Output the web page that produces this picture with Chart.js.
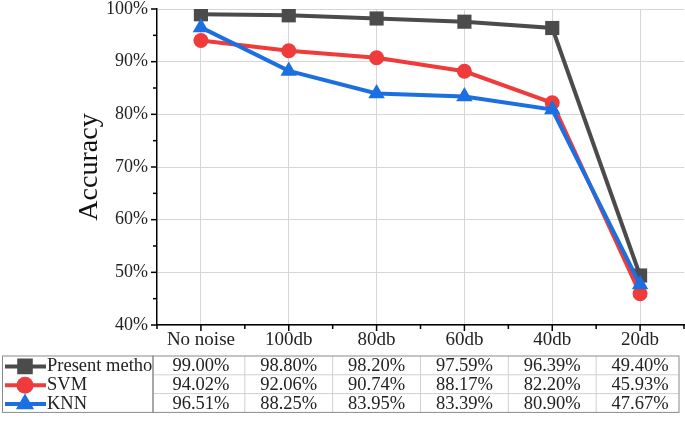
<!DOCTYPE html>
<html>
<head>
<meta charset="utf-8">
<script src="https://cdn.jsdelivr.net/npm/chart.js@4.4.0/dist/chart.umd.min.js"></script>
<style>
  body { margin: 0; background: #fff; }
  #wrap { width: 685px; height: 427px; position: relative; }
</style>
</head>
<body>
<div id="wrap"><canvas id="accChart"></canvas></div>
<script>
const categories = ['No noise', '100db', '80db', '60db', '40db', '20db'];
const presentMethod = [99.00, 98.80, 98.20, 97.59, 96.39, 49.40];
const svm = [94.02, 92.06, 90.74, 88.17, 82.20, 45.93];
const knn = [96.51, 88.25, 83.95, 83.39, 80.90, 47.67];
const seriesNames = ['Present method', 'SVM', 'KNN'];
const yTicks = [40, 50, 60, 70, 80, 90, 100];

const colors = ['#4b4b4b', '#ef3b3b', '#1c6fe0'];
const shapes = ['rect', 'circle', 'triangle'];
const radii = [10, 7.5, 9.5];
const serif = '"Liberation Serif", "Times New Roman", serif';

// axis ticks, legend box and data table under the plot
const extras = {
  id: 'extras',
  afterDraw(chart) {
    const ctx = chart.ctx;
    const x = chart.scales.x, y = chart.scales.y;
    const area = chart.chartArea;
    const step = x.getPixelForValue(1) - x.getPixelForValue(0);
    ctx.save();
    ctx.strokeStyle = '#000';
    ctx.lineWidth = 1.5;
    // y ticks (major every 10, minor every 5)
    for (let v = y.min; v <= y.max; v += 5) {
      const py = y.getPixelForValue(v);
      const len = v % 10 === 0 ? 6 : 4;
      ctx.beginPath();
      ctx.moveTo(area.left - len, py);
      ctx.lineTo(area.left, py);
      ctx.stroke();
    }
    // x ticks (major at categories, minor in between)
    for (let i = 0; i < categories.length; i++) {
      const px = x.getPixelForValue(i);
      ctx.beginPath();
      ctx.moveTo(px, area.bottom);
      ctx.lineTo(px, area.bottom + 6);
      ctx.stroke();
      const mx = px - step / 2;
      ctx.beginPath();
      ctx.moveTo(mx, area.bottom);
      ctx.lineTo(mx, area.bottom + 4);
      ctx.stroke();
    }
    const lastMx = x.getPixelForValue(categories.length - 1) + step / 2;
    ctx.beginPath();
    ctx.moveTo(lastMx, area.bottom);
    ctx.lineTo(lastMx, area.bottom + 4);
    ctx.stroke();

    // table
    const rows = [presentMethod, svm, knn];
    const top = 356, rowH = 18.8;
    const tLeft = area.left - 4;
    const tRight = x.getPixelForValue(categories.length - 1) + step / 2 - 5;
    ctx.font = '18.5px ' + serif;
    ctx.textAlign = 'center';
    ctx.textBaseline = 'middle';
    ctx.fillStyle = '#222';
    rows.forEach((row, r) => {
      row.forEach((v, i) => {
        ctx.fillText(v.toFixed(2) + '%', x.getPixelForValue(i), top + rowH * (r + 0.5) + 1);
      });
    });
    ctx.strokeStyle = '#d0d0d0';
    ctx.lineWidth = 1;
    for (let r = 1; r < 3; r++) {
      ctx.beginPath();
      ctx.moveTo(tLeft, top + rowH * r);
      ctx.lineTo(tRight, top + rowH * r);
      ctx.stroke();
    }
    for (let i = 1; i < categories.length; i++) {
      const px = x.getPixelForValue(i) - step / 2;
      ctx.beginPath();
      ctx.moveTo(px, top);
      ctx.lineTo(px, top + rowH * 3);
      ctx.stroke();
    }
    ctx.strokeStyle = '#8a8a8a';
    ctx.strokeRect(tLeft, top, tRight - tLeft, rowH * 3);

    // legend box
    const lLeft = 2.5;
    ctx.strokeRect(lLeft, top, tLeft - lLeft, rowH * 3);
    ctx.save();
    ctx.beginPath();
    ctx.rect(lLeft, top, tLeft - lLeft - 1, rowH * 3);
    ctx.clip();
    ctx.textAlign = 'left';
    seriesNames.forEach((name, r) => {
      const cy = top + rowH * (r + 0.5) + 1;
      ctx.strokeStyle = colors[r];
      ctx.fillStyle = colors[r];
      ctx.lineWidth = 4;
      ctx.beginPath();
      ctx.moveTo(5, cy);
      ctx.lineTo(46, cy);
      ctx.stroke();
      Chart.helpers.drawPoint(ctx, { pointStyle: shapes[r], radius: radii[r] + 1, rotation: 0, borderWidth: 0 }, 25, cy);
      ctx.fillStyle = '#222';
      ctx.fillText(name, 47, cy);
    });
    ctx.restore();
    ctx.restore();
  }
};

const ctx = document.getElementById('accChart').getContext('2d');
new Chart(ctx, {
  type: 'line',
  data: {
    labels: categories,
    datasets: [presentMethod, svm, knn].map((d, i) => ({
      label: seriesNames[i],
      data: d,
      order: 3 - i,
      borderColor: colors[i],
      backgroundColor: colors[i],
      borderWidth: 4,
      tension: 0,
      pointStyle: shapes[i],
      pointRadius: radii[i],
      pointHoverRadius: radii[i],
      pointBorderWidth: 0
    }))
  },
  options: {
    responsive: true,
    maintainAspectRatio: false,
    animation: false,
    layout: { autoPadding: false, padding: { top: 9, right: 1, left: 0, bottom: 0 } },
    plugins: { legend: { display: false }, tooltip: { enabled: false } },
    scales: {
      x: {
        offset: true,
        grid: { color: '#d6d6d6', lineWidth: 1, drawTicks: false, offset: false },
        border: { display: true, color: '#000', width: 1.5 },
        ticks: { font: { family: serif, size: 19 }, color: '#222', padding: 4, maxRotation: 0 },
        afterFit(scale) {
          scale.height = 102;
          scale.paddingLeft = 0;
          scale.paddingRight = 0;
        }
      },
      y: {
        min: 40,
        max: 100,
        afterBuildTicks(scale) { scale.ticks = yTicks.map(v => ({ value: v })); },
        grid: { color: '#d6d6d6', lineWidth: 1, drawTicks: false },
        border: { display: true, color: '#000', width: 1.5 },
        ticks: { font: { family: serif, size: 18 }, color: '#222', padding: 9, callback: v => v + '%' },
        title: { display: true, text: 'Accuracy', font: { family: serif, size: 28 }, color: '#111', padding: { top: 73, bottom: 0 } },
        afterFit(scale) {
          scale.width = 157;
          scale.paddingTop = 0;
          scale.paddingBottom = 0;
        }
      }
    }
  },
  plugins: [extras]
});
</script>
</body>
</html>
